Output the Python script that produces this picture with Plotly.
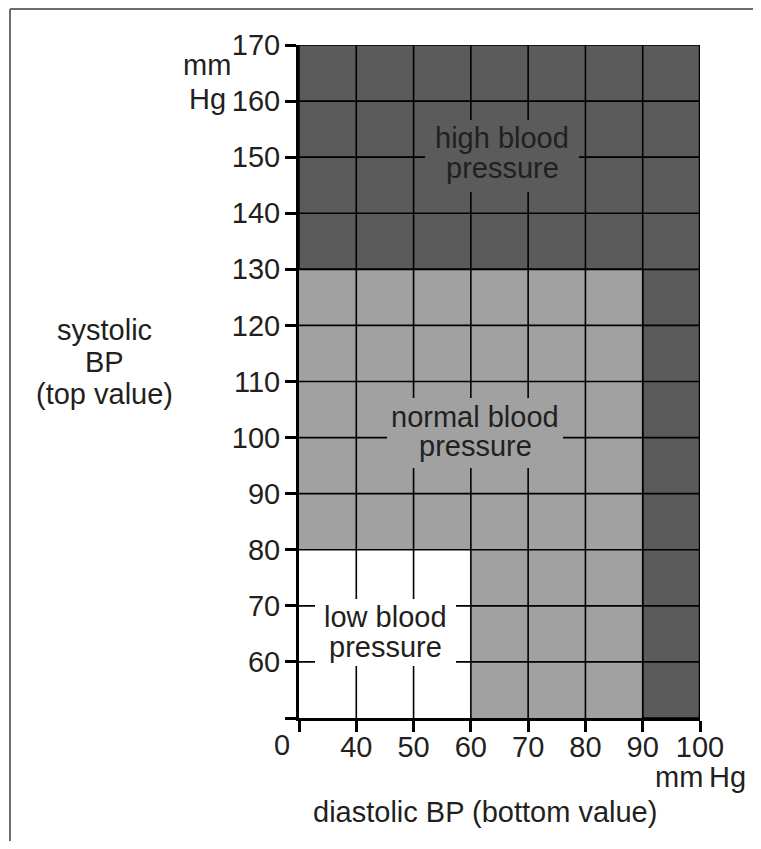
import plotly.graph_objects as go

# ---------------- data ----------------
x_ticks = [30, 40, 50, 60, 70, 80, 90, 100]
x_tick_labels = ["", "40", "50", "60", "70", "80", "90", "100"]
y_ticks = [50, 60, 70, 80, 90, 100, 110, 120, 130, 140, 150, 160, 170]
y_tick_labels = ["", "60", "70", "80", "90", "100", "110", "120", "130",
                 "140", "150", "160", "170"]

# region outlines (diastolic x, systolic y)
high_x = [30, 100, 100, 90, 90, 30, 30]
high_y = [170, 170, 50, 50, 130, 130, 170]
normal_x = [30, 90, 90, 60, 60, 30, 30]
normal_y = [130, 130, 50, 50, 80, 80, 130]
low_x = [30, 60, 60, 30, 30]
low_y = [80, 80, 50, 50, 80]

region_names = ["high blood pressure", "normal blood pressure", "low blood pressure"]

# ---------------- style ----------------
OFF = 8                      # page body margin
W, H = 753, 833
PLOT_L, PLOT_R, PLOT_T, PLOT_B = 299, 700, 45, 718   # in page pixels
L = PLOT_L - OFF
T = PLOT_T - OFF
R = W - (PLOT_R - OFF)
B = H - (PLOT_B - OFF)
PW, PH = W - L - R, H - T - B
FONT = "Liberation Sans, Arial, Helvetica, sans-serif"
FS = 29
TXT = "#231f20"
DARK = "#5b5b5b"
LIGHT = "#a1a1a1"
WHITE = "#ffffff"


def px(xp):
    return (xp - PLOT_L) / PW


def py(yp):
    return (PLOT_B - yp) / PH


fig = go.Figure()

fig.add_trace(go.Scatter(x=high_x, y=high_y, mode="lines", fill="toself",
                         fillcolor=DARK, line=dict(color="black", width=1.5),
                         name=region_names[0], hoverinfo="skip", cliponaxis=False))
fig.add_trace(go.Scatter(x=normal_x, y=normal_y, mode="lines", fill="toself",
                         fillcolor=LIGHT, line=dict(color=LIGHT, width=0),
                         name=region_names[1], hoverinfo="skip"))
fig.add_trace(go.Scatter(x=low_x, y=low_y, mode="lines", fill="toself",
                         fillcolor=WHITE, line=dict(color=WHITE, width=0),
                         name=region_names[2], hoverinfo="skip"))

# grid lines built from tick values
gx, gy = [], []
for v in x_ticks[1:-1]:
    gx += [v, v, None]
    gy += [y_ticks[0], y_ticks[-1], None]
for v in y_ticks[1:-1]:
    gx += [x_ticks[0], x_ticks[-1], None]
    gy += [v, v, None]
fig.add_trace(go.Scatter(x=gx, y=gy, mode="lines",
                         line=dict(color="black", width=1.6),
                         hoverinfo="skip", showlegend=False))
# right frame edge
fig.add_trace(go.Scatter(x=[x_ticks[-1], x_ticks[-1]], y=[y_ticks[0], y_ticks[-1]],
                         mode="lines", line=dict(color="black", width=2.5),
                         hoverinfo="skip", showlegend=False, cliponaxis=False))

axis_common = dict(
    ticks="outside", ticklen=11, tickwidth=2.5, tickcolor="black",
    showline=True, linewidth=3, linecolor="black",
    showgrid=False, zeroline=False, fixedrange=True,
    tickfont=dict(size=FS, color=TXT, family=FONT),
)

fig.update_layout(
    width=W, height=H,
    margin=dict(l=L, r=R, t=T, b=B, pad=0),
    paper_bgcolor="white", plot_bgcolor="white",
    showlegend=False,
    font=dict(family=FONT, size=FS, color=TXT),
    xaxis=dict(range=[x_ticks[0], x_ticks[-1]], tickmode="array",
               tickvals=x_ticks, ticktext=x_tick_labels,
               ticklabelstandoff=-10, **axis_common),
    yaxis=dict(range=[y_ticks[0], y_ticks[-1]], tickmode="array",
               tickvals=y_ticks, ticktext=y_tick_labels,
               ticklabelstandoff=-1, **axis_common),
)

# label background boxes (page-pixel boxes -> paper)
boxes = [
    ((425, 120, 579, 192), DARK),
    ((387, 398, 563, 468), LIGHT),
    ((315, 599, 456, 666), WHITE),
]
shapes = []
for (x0, y0, x1, y1), col in boxes:
    shapes.append(dict(type="rect", xref="paper", yref="paper",
                       x0=px(x0), x1=px(x1), y0=py(y1), y1=py(y0),
                       fillcolor=col, line=dict(width=0), layer="above"))
# outer page border (top & left)
shapes.append(dict(type="line", xref="paper", yref="paper",
                   x0=px(10), x1=px(OFF + W), y0=py(OFF + 1), y1=py(OFF + 1),
                   line=dict(color="#6d6d6d", width=2), layer="above"))
shapes.append(dict(type="line", xref="paper", yref="paper",
                   x0=px(10), x1=px(10), y0=py(OFF + 1), y1=py(OFF + H),
                   line=dict(color="#6d6d6d", width=2), layer="above"))
fig.update_layout(shapes=shapes)


def ann(text, xp, yp, xanchor="center"):
    return dict(text=text, xref="paper", yref="paper", x=px(xp), y=py(yp),
                xanchor=xanchor, yanchor="middle", showarrow=False,
                font=dict(size=FS, color=TXT, family=FONT))


annotations = [
    ann("high blood", 502, 138), ann("pressure", 502, 168),
    ann("normal blood", 475, 417), ann("pressure", 475, 446),
    ann("low blood", 385, 617), ann("pressure", 385, 647),
    ann("mm", 207, 65), ann("Hg", 207, 99),
    ann("systolic", 104, 330), ann("BP", 104, 362), ann("(top value)", 104, 394),
    ann("0", 282, 745),
    ann("mm\u2009Hg", 748, 777, xanchor="right"),
    ann("diastolic BP (bottom value)", 485, 812),
]
fig.update_layout(annotations=annotations)

fig.write_html("out.html")
